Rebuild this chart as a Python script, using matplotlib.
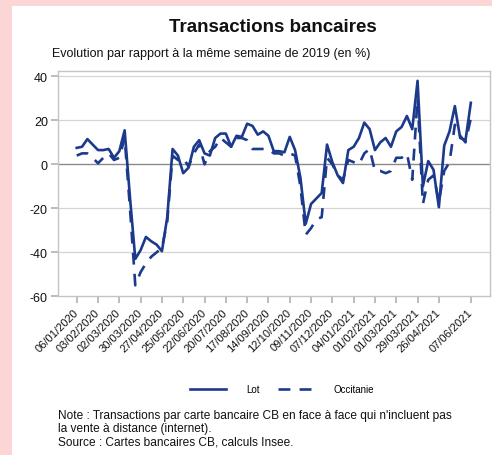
import matplotlib
matplotlib.use("Agg")
import matplotlib.pyplot as plt
from matplotlib.patches import Rectangle
from matplotlib.lines import Line2D
import numpy as np
import pandas as pd

plt.rcParams['font.family'] = ['Liberation Sans', 'DejaVu Sans']

dates = pd.date_range("2020-01-06", "2021-06-07", freq="7D")

lot = [7.5, 8, 11.5, 9, 6.5, 6.5, 7, 3, 6, 15.5,
       -15, -43, -39, -33, -35, -36.5, -39.5, -24, 7, 4,
       -4, -1.5, 8, 11, 5, 4, 12, 14, 14, 8,
       13, 12.5, 18.5, 17.5, 13.5, 15, 13, 6, 6, 5.5,
       12.5, 6.5, -6, -27, -18, -15.5, -13, 9, 1, -5,
       -8.5, 6.5, 8, 12, 19, 16, 6.5, 10, 12, 8,
       15, 17, 22, 16, 38, -10, 1.5, -2.5, -19.5, 8.5,
       15, 26.5, 12, 11, 28]

occitanie = [4, 5, 5, 3, 0.5, 3, 5, 2, 3, 12,
             -20, -55, -49, -45, -42, -40, -38, -26, 4, 2,
             3, -1, 5, 9, 0, 6, 8, 12, 10, 8,
             12, 12, 11, 7, 7, 7, 7, 5, 5, 4,
             5, 4, -10, -32, -29, -25, -24, 3, 0, -5,
             -7, 2, 1, 0, 5, 7, -3, -3, -4, -3,
             3, 3, 5, -7, 30, -18, -7, -5, -17, -3,
             1, 18, 13, 10, 21]

tick_labels = ["06/01/2020", "03/02/2020", "02/03/2020", "30/03/2020", "27/04/2020",
               "25/05/2020", "22/06/2020", "20/07/2020", "17/08/2020", "14/09/2020",
               "12/10/2020", "09/11/2020", "07/12/2020", "04/01/2021", "01/02/2021",
               "01/03/2021", "29/03/2021", "26/04/2021", "07/06/2021"]
y_ticks = [-60, -40, -20, 0, 20, 40]

date_labels = [d.strftime("%d/%m/%Y") for d in dates]
tick_pos = [date_labels.index(t) for t in tick_labels]
x = np.arange(len(dates))

W, H = 492, 456
fig = plt.figure(figsize=(W / 100, H / 100), dpi=100)
fig.patch.set_facecolor('#fcd6d6')
fig.patches.append(Rectangle((12 / W, 0), 1, 1 - 7 / H, transform=fig.transFigure,
                             facecolor='white', edgecolor='none', zorder=-5))

ax = fig.add_axes([57.7 / W, 1 - 297.3 / H, (490 - 57.7) / W, (297.3 - 71.7) / H])
ax.set_zorder(2)
ax.set_facecolor('white')

color = '#1c3a8c'
ax.plot(x, lot, color=color, lw=1.9, solid_joinstyle='round', zorder=3, label='Lot')
ax.plot(x, occitanie, color=color, lw=1.9, dashes=(4.5, 3.5), zorder=3, label='Occitanie')

ax.set_xlim(-3.57, 77.6)
ax.set_ylim(-60, 42.6)
ax.set_yticks(y_ticks)
ax.set_yticklabels([str(v) for v in y_ticks], fontsize=9, color='#111111')
for v in y_ticks:
    if v == 0:
        ax.axhline(v, color='#8a8a8a', lw=1.0, zorder=1)
    elif v != -60:
        ax.axhline(v, color='#d4d4d4', lw=0.9, zorder=1)

ax.set_xticks(tick_pos)
ax.set_xticklabels(tick_labels, rotation=45, ha='right', va='center',
                   rotation_mode='anchor', fontsize=8, color='#111111')
ax.tick_params(axis='x', direction='out', length=5, width=1.2, color='#b0b0b0', pad=5)
ax.tick_params(axis='y', direction='out', length=5, width=1.2, color='#b0b0b0', pad=2)
for s in ax.spines.values():
    s.set_color('#c4c4c4')
    s.set_linewidth(1.0)

fig.text(273 / W, 1 - 28 / H, "Transactions bancaires", ha='center', va='center',
         fontsize=13.5, fontweight='bold', color='#111111')
fig.text(52 / W, 1 - 53.5 / H, "Evolution par rapport à la même semaine de 2019 (en %)",
         ha='left', va='center', fontsize=9, color='#111111')

handles = [Line2D([], [], color=color, lw=1.9),
           Line2D([], [], color=color, lw=1.9, dashes=(4.5, 3.5))]
fig.legend(handles, ['Lot', 'Occitanie'], loc='center', bbox_to_anchor=(282 / W, 1 - 390 / H),
           ncol=2, frameon=False, fontsize=7, handlelength=3.7, handletextpad=2.0,
           columnspacing=1.9)

notes = ["Note : Transactions par carte bancaire CB en face à face qui n'incluent pas",
         "la vente à distance (internet).",
         "Source : Cartes bancaires CB, calculs Insee."]
for k, line in enumerate(notes):
    fig.text(58 / W, 1 - (416.5 + 13 * k) / H, line, ha='left', va='center',
             fontsize=8.6, color='#111111')

fig.savefig("out.png", dpi=100)
